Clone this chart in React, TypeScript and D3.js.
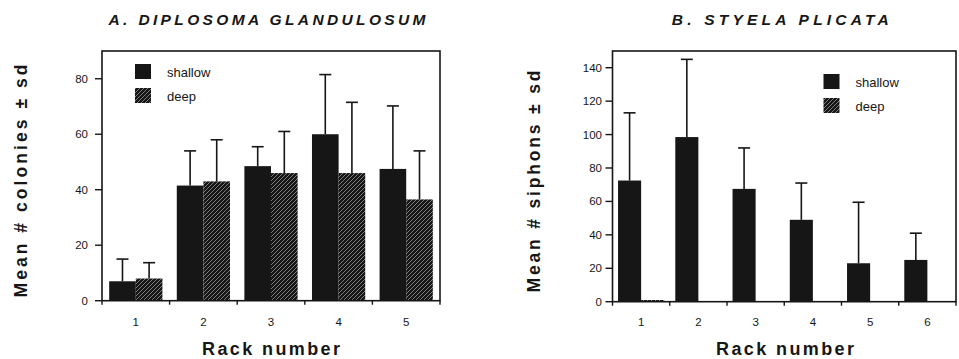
import React from 'react';
import * as d3 from 'd3';

// Panel A: Diplosoma glandulosum, mean # colonies
const racksA = ['1', '2', '3', '4', '5'];
const shallowA = [7, 41.5, 48.5, 60, 47.5];
const shallowSdA = [8, 12.5, 7, 21.5, 22.7];
const deepA = [8, 43, 46, 46, 36.5];
const deepSdA = [5.7, 15, 15, 25.5, 17.5];
const yTicksA = [0, 20, 40, 60, 80];

// Panel B: Styela plicata, mean # siphons
const racksB = ['1', '2', '3', '4', '5', '6'];
const shallowB = [72.5, 98.5, 67.5, 49, 23, 25];
const shallowSdB = [40.5, 46.5, 24.5, 22, 36.5, 16];
const deepB = [1, null, null, null, null, null];
const yTicksB = [0, 20, 40, 60, 80, 100, 120, 140];

const INK = '#161616';
const FONT = '"Liberation Sans", Arial, Helvetica, sans-serif';

type PanelProps = {
  title: string;
  titleLen: number;
  yLabel: string;
  yLabelLen: number;
  racks: string[];
  shallow: number[];
  shallowSd: number[];
  deep: (number | null)[];
  deepSd?: number[];
  yMax: number;
  yTicks: number[];
  left: number;
  right: number;
  top: number;
  bottom: number;
  tickLabelGap: number;
  legendX: number;
  legendY: number;
  yLabelX: number;
  yLabelMid: number;
  pad: number;
  xLabelMid: number;
};

const Panel: React.FC<PanelProps> = p => {
  const x = d3.scaleBand<string>().domain(p.racks).range([p.left, p.right]).padding(0);
  const sub = d3
    .scaleBand<string>()
    .domain(['shallow', 'deep'])
    .range([0, x.bandwidth()])
    .paddingInner(0)
    .paddingOuter(p.pad);
  const y = d3.scaleLinear().domain([0, p.yMax]).range([p.bottom, p.top]);
  const bw = sub.bandwidth();
  const cap = 6;
  const boundaries = [...p.racks.map(r => x(r) as number), p.right];
  const midX = (p.left + p.right) / 2;

  return (
    <g>
      <text
        x={midX - 4}
        y={25}
        textAnchor="middle"
        fontFamily={FONT}
        fontWeight="bold"
        fontStyle="italic"
        fontSize={15.5}
        textLength={p.titleLen}
        lengthAdjust="spacing"
        fill={INK}
      >
        {p.title}
      </text>

      {/* bars */}
      {p.racks.map((r, i) => {
        const x0 = x(r) as number;
        const sx = x0 + (sub('shallow') as number);
        const dx = x0 + (sub('deep') as number);
        const d = p.deep[i];
        return (
          <g key={r}>
            <rect x={sx} y={y(p.shallow[i])} width={bw} height={p.bottom - y(p.shallow[i])} fill={INK} />
            {d !== null && (
              <rect x={dx} y={y(d)} width={bw} height={p.bottom - y(d)} fill="url(#hatch)" />
            )}
          </g>
        );
      })}

      {/* error bars */}
      {p.racks.map((r, i) => {
        const x0 = x(r) as number;
        const cx = x0 + (sub('shallow') as number) + bw / 2;
        const items = [{ cx, v: p.shallow[i], sd: p.shallowSd[i] }];
        if (p.deepSd && p.deep[i] !== null) {
          items.push({ cx: x0 + (sub('deep') as number) + bw / 2, v: p.deep[i] as number, sd: p.deepSd[i] });
        }
        return items.map((e, k) => (
          <g key={r + '-' + k} stroke={INK} strokeWidth={1.6}>
            <line x1={e.cx} x2={e.cx} y1={y(e.v)} y2={y(e.v + e.sd)} />
            <line x1={e.cx - cap} x2={e.cx + cap} y1={y(e.v + e.sd)} y2={y(e.v + e.sd)} />
          </g>
        ));
      })}

      {/* frame */}
      <rect
        x={p.left}
        y={p.top}
        width={p.right - p.left}
        height={p.bottom - p.top}
        fill="none"
        stroke={INK}
        strokeWidth={1.6}
      />

      {/* y axis ticks */}
      {p.yTicks.map(t => (
        <g key={t}>
          <line x1={p.left - 7} x2={p.left} y1={y(t)} y2={y(t)} stroke={INK} strokeWidth={1.4} />
          <text
            x={p.left - 7 - p.tickLabelGap}
            y={y(t)}
            dy="0.35em"
            textAnchor="end"
            fontFamily={FONT}
            fontSize={11.5}
            fill={INK}
          >
            {t}
          </text>
        </g>
      ))}

      {/* x axis ticks */}
      {boundaries.map((bx, i) => (
        <line key={i} x1={bx} x2={bx} y1={p.bottom} y2={p.bottom + 4} stroke={INK} strokeWidth={1.4} />
      ))}
      {p.racks.map(r => (
        <text
          key={r}
          x={(x(r) as number) + x.bandwidth() / 2}
          y={322}
          dy="0.35em"
          textAnchor="middle"
          fontFamily={FONT}
          fontSize={11.5}
          fill={INK}
        >
          {r}
        </text>
      ))}

      {/* axis titles */}
      <text
        x={p.xLabelMid}
        y={355}
        textAnchor="middle"
        fontFamily={FONT}
        fontWeight="bold"
        fontSize={18}
        textLength={138}
        lengthAdjust="spacing"
        fill={INK}
      >
        Rack number
      </text>
      <text
        transform={`translate(${p.yLabelX},${p.yLabelMid}) rotate(-90)`}
        textAnchor="middle"
        fontFamily={FONT}
        fontWeight="bold"
        fontSize={17.5}
        textLength={p.yLabelLen}
        lengthAdjust="spacing"
        fill={INK}
      >
        Mean # {p.yLabel} ± sd
      </text>

      {/* legend */}
      <rect x={p.legendX} y={p.legendY} width={16} height={15} fill={INK} />
      <rect x={p.legendX} y={p.legendY + 24} width={16} height={15} fill="url(#hatch)" />
      <text x={p.legendX + 32} y={p.legendY + 8} dy="0.35em" fontFamily={FONT} fontSize={13} fill={INK}>
        shallow
      </text>
      <text x={p.legendX + 32} y={p.legendY + 32} dy="0.35em" fontFamily={FONT} fontSize={13} fill={INK}>
        deep
      </text>
    </g>
  );
};

const App: React.FC = () => {
  return (
    <div style={{ position: 'absolute', left: 0, top: 0, width: 959, height: 359, background: '#fff' }}>
      <svg width={959} height={359} viewBox="0 0 959 359" style={{ display: 'block' }}>
        <defs>
          <pattern id="hatch" patternUnits="userSpaceOnUse" width={4} height={4}>
            <rect width={4} height={4} fill={INK} />
            <path d="M-1,1 l2,-2 M0,4 l4,-4 M3,5 l2,-2" stroke="#a8a8a8" strokeWidth={0.7} />
          </pattern>
        </defs>
        <Panel
          title="A. DIPLOSOMA GLANDULOSUM"
          titleLen={317}
          yLabel="colonies"
          yLabelLen={233}
          racks={racksA}
          shallow={shallowA}
          shallowSd={shallowSdA}
          deep={deepA}
          deepSd={deepSdA}
          yMax={90}
          yTicks={yTicksA}
          left={102}
          right={440}
          top={51}
          bottom={300.7}
          tickLabelGap={7}
          legendX={135}
          legendY={64}
          yLabelX={27}
          yLabelMid={181}
          pad={0.27}
          xLabelMid={271}
        />
        <Panel
          title="B. STYELA PLICATA"
          titleLen={217}
          yLabel="siphons"
          yLabelLen={222}
          racks={racksB}
          shallow={shallowB}
          shallowSd={shallowSdB}
          deep={deepB}
          yMax={150}
          yTicks={yTicksB}
          left={612.5}
          right={956}
          top={51}
          bottom={301.7}
          tickLabelGap={3.5}
          legendX={823.5}
          legendY={74}
          yLabelX={540}
          yLabelMid={181.5}
          pad={0.24}
          xLabelMid={785}
        />
      </svg>
    </div>
  );
};

export default App;
